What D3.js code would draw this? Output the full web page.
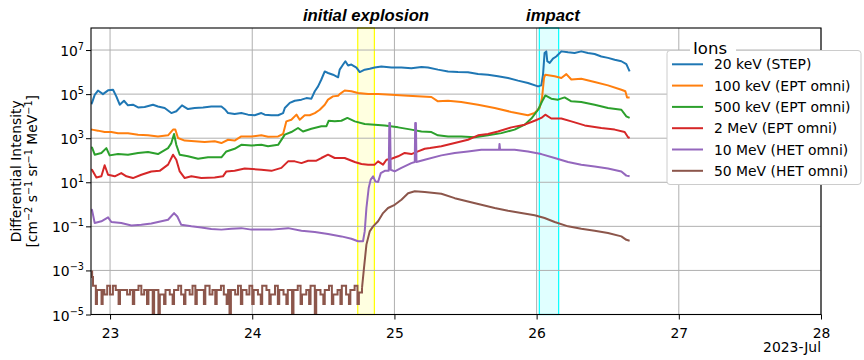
<!DOCTYPE html>
<html><head><meta charset="utf-8">
<script src="https://cdn.jsdelivr.net/npm/d3@7"></script>
<style>
body{margin:0;background:#fff}
svg{display:block}
text{font-family:"DejaVu Sans",sans-serif;fill:#000}
</style>
</head><body>
<svg id="chart" width="864" height="360"></svg>
<script>
// ---------------- data ----------------
const seriesNames = ["20 keV (STEP)","100 keV (EPT omni)","500 keV (EPT omni)","2 MeV (EPT omni)","10 MeV (HET omni)","50 MeV (HET omni)"];
const xTicks = [23,24,25,26,27,28];
const xTickLabels = ["23","24","25","26","27","28"];
const yTickValues = [1e-5,1e-3,1e-1,1e1,1e3,1e5,1e7];
const yTickExponents = ["−5","−3","−1","1","3","5","7"];
const dateOffsetLabel = "2023-Jul";
const eventLabels = ["initial explosion","impact"];
const eventStarts = [24.742, 26.019];
const eventEnds = [24.859, 26.155];
const eventLabelTimes = [24.80, 26.115];
const backgroundEnd = 24.772; // 50 MeV counts are at background level before this time

// [day of July 2023, intensity]
const step20keV = [[22.868,3.5e4],[22.873,4.0e4],[22.892,9.3e4],[22.915,1.45e5],[22.950,1.0e5],[22.986,1.48e5],[23.021,1.58e5],[23.044,7.9e4],[23.068,3.3e4],[23.098,5.0e4],[23.126,3.1e4],[23.161,3.3e4],[23.197,2.5e4],[23.243,2.6e4],[23.302,3.3e4],[23.337,2.75e4],[23.384,2.35e4],[23.431,1.38e4],[23.466,1.66e4],[23.506,3.1e4],[23.548,2.1e4],[23.595,2.35e4],[23.654,2.5e4],[23.712,2.75e4],[23.783,2.75e4],[23.811,1.95e4],[23.830,1.38e4],[23.876,1.26e4],[23.923,1.38e4],[23.970,1.17e4],[24.017,1.1e4],[24.064,1.38e4],[24.088,1.17e4],[24.135,1.1e4],[24.182,1.1e4],[24.217,1.38e4],[24.229,2.35e4],[24.264,4.0e4],[24.299,5.0e4],[24.346,5.6e4],[24.381,6.6e4],[24.416,6.2e4],[24.440,1.35e5],[24.463,2.24e5],[24.486,4.6e5],[24.510,1.07e6],[24.533,9.1e5],[24.568,7.6e5],[24.604,5.8e5],[24.615,1.29e6],[24.639,2.2e6],[24.655,3.1e6],[24.674,2.0e6],[24.697,2.2e6],[24.733,1.6e6],[24.756,1.0e6],[24.791,1.29e6],[24.826,1.41e6],[24.861,1.6e6],[24.908,1.8e6],[24.979,1.6e6],[25.049,1.6e6],[25.119,1.5e6],[25.190,1.7e6],[25.236,1.6e6],[25.306,1.29e6],[25.377,1.07e6],[25.447,1.0e6],[25.517,9.8e5],[25.588,8.1e5],[25.658,7.6e5],[25.728,6.5e5],[25.799,5.4e5],[25.869,4.1e5],[25.939,3.2e5],[26.010,2.24e5],[26.033,2.5e5],[26.045,7.6e5],[26.056,7.4e6],[26.068,8.7e6],[26.075,3.1e6],[26.092,2.6e6],[26.115,4.1e6],[26.138,5.1e6],[26.174,8.7e6],[26.221,7.9e6],[26.267,7.4e6],[26.314,8.7e6],[26.361,7.4e6],[26.408,6.6e6],[26.455,5.1e6],[26.502,4.4e6],[26.549,3.6e6],[26.596,3.1e6],[26.631,2.3e6],[26.654,1.07e6]];

const ept100keV = [[22.868,2.6e3],[22.873,2.45e3],[22.915,2.2e3],[22.962,1.9e3],[23.009,1.9e3],[23.056,1.66e3],[23.126,1.66e3],[23.197,1.45e3],[23.267,1.35e3],[23.337,1.2e3],[23.408,1.35e3],[23.443,2.45e3],[23.459,2.45e3],[23.478,1.02e3],[23.525,7.8e2],[23.595,7.2e2],[23.665,6.8e2],[23.736,7.2e2],[23.783,6.0e2],[23.830,8.5e2],[23.876,7.8e2],[23.923,1.2e3],[23.994,1.2e3],[24.064,1.35e3],[24.111,1.17e3],[24.182,1.2e3],[24.217,1.55e3],[24.240,5.8e3],[24.275,6.9e3],[24.311,1.17e4],[24.334,6.9e3],[24.369,1.1e4],[24.404,1.1e4],[24.440,1.38e4],[24.475,1.95e4],[24.510,3.3e4],[24.533,5.6e4],[24.568,7.9e4],[24.604,8.5e4],[24.615,1.0e5],[24.650,1.45e5],[24.697,1.35e5],[24.744,1.12e5],[24.815,1.0e5],[24.885,1.0e5],[24.979,9.3e4],[25.096,8.5e4],[25.260,7.4e4],[25.306,4.7e4],[25.377,5.0e4],[25.470,4.4e4],[25.588,3.3e4],[25.705,2.35e4],[25.822,1.55e4],[25.939,1.1e4],[25.986,1.38e4],[26.021,2.35e4],[26.038,6.6e4],[26.052,5.4e5],[26.061,7.6e5],[26.127,6.5e5],[26.174,5.4e5],[26.209,8.1e5],[26.244,4.6e5],[26.314,5.0e5],[26.408,3.55e5],[26.502,2.5e5],[26.596,1.58e5],[26.624,1.35e5],[26.636,7.1e4],[26.654,7.1e4]];

const ept500keV = [[22.868,3.8e2],[22.873,3.8e2],[22.892,1.78e2],[22.939,2.14e2],[22.974,3.55e2],[22.997,1.66e2],[23.056,1.9e2],[23.126,1.78e2],[23.197,2.14e2],[23.267,2.35e2],[23.337,1.9e2],[23.408,3.55e2],[23.431,6.0e2],[23.450,1.55e3],[23.466,5.0e2],[23.490,1.78e2],[23.548,1.51e2],[23.619,1.17e2],[23.689,1.35e2],[23.783,1.35e2],[23.818,2.5e2],[23.876,3.3e2],[23.923,5.0e2],[23.994,4.7e2],[24.064,5.0e2],[24.111,4.3e2],[24.182,5.0e2],[24.229,1.45e3],[24.275,1.9e3],[24.322,2.9e3],[24.357,2.0e3],[24.416,2.7e3],[24.486,3.5e3],[24.522,3.5e3],[24.538,6.2e3],[24.580,5.8e3],[24.627,6.2e3],[24.669,8.3e3],[24.721,5.8e3],[24.791,4.4e3],[24.861,4.1e3],[24.932,3.8e3],[25.026,3.1e3],[25.119,2.45e3],[25.190,2.0e3],[25.260,1.9e3],[25.306,1.35e3],[25.377,1.2e3],[25.470,1.2e3],[25.564,1.1e3],[25.658,1.35e3],[25.752,1.7e3],[25.845,2.45e3],[25.916,4.1e3],[25.963,7.8e3],[26.010,1.95e4],[26.045,5.6e4],[26.061,8.7e4],[26.103,6.2e4],[26.150,5.6e4],[26.197,7.1e4],[26.244,4.7e4],[26.314,4.4e4],[26.408,3.3e4],[26.502,2.35e4],[26.596,1.95e4],[26.631,9.8e3],[26.654,8.3e3]];

const ept2MeV = [[22.868,3.7e1],[22.873,3.7e1],[22.904,1.66e1],[22.939,1.86e1],[22.962,5.9e1],[22.986,2.2e1],[23.033,1.86e1],[23.079,2.6e1],[23.115,1.86e1],[23.161,1.55e1],[23.220,2.2e1],[23.290,3.1e1],[23.349,3.3e1],[23.408,6.3e1],[23.443,1.78e2],[23.466,1.05e2],[23.490,3.1e1],[23.525,1.55e1],[23.572,1.86e1],[23.642,1.55e1],[23.736,1.66e1],[23.794,1.86e1],[23.818,3.1e1],[23.876,3.3e1],[23.947,4.2e1],[24.064,3.7e1],[24.135,3.3e1],[24.205,4.5e1],[24.252,8.9e1],[24.299,8.9e1],[24.346,7.4e1],[24.393,9.5e1],[24.451,9.5e1],[24.486,1.26e2],[24.533,1.78e2],[24.580,1.26e2],[24.650,1.26e2],[24.721,8.3e1],[24.768,6.8e1],[24.815,6.3e1],[24.861,6.3e1],[24.885,8.9e1],[24.920,6.3e1],[24.944,1.05e2],[24.979,1.17e2],[25.026,1.51e2],[25.072,2.14e2],[25.119,1.9e2],[25.166,2.51e2],[25.213,3.31e2],[25.250,3.55e2],[25.330,4.27e2],[25.424,6.03e2],[25.517,8.51e2],[25.588,1.35e3],[25.658,1.55e3],[25.728,2.0e3],[25.822,3.1e3],[25.916,4.1e3],[25.986,6.2e3],[26.033,8.3e3],[26.061,1.17e4],[26.103,7.8e3],[26.174,7.8e3],[26.244,5.8e3],[26.338,3.8e3],[26.455,2.9e3],[26.549,2.45e3],[26.619,1.9e3],[26.643,1.1e3],[26.654,1.02e3]];

const het10MeV = [[22.868,0.56],[22.873,0.56],[22.892,0.141],[22.939,0.17],[22.986,0.257],[23.009,0.158],[23.079,0.141],[23.150,0.11],[23.220,0.117],[23.290,0.135],[23.361,0.17],[23.408,0.2],[23.450,0.40],[23.473,0.28],[23.501,0.117],[23.572,0.1],[23.642,0.089],[23.712,0.076],[23.783,0.071],[23.853,0.078],[23.923,0.083],[23.994,0.071],[24.064,0.071],[24.135,0.071],[24.252,0.083],[24.346,0.063],[24.440,0.055],[24.533,0.045],[24.627,0.035],[24.697,0.0275],[24.744,0.021],[24.779,0.021],[24.791,0.059],[24.803,0.68],[24.819,5.5],[24.833,13.2],[24.850,18.6],[24.866,11],[24.885,10.2],[24.904,26],[24.932,33],[24.960,33],[24.964,4.9e3],[24.969,4.9e3],[24.974,37],[25.002,31],[25.049,45],[25.119,74],[25.143,83],[25.146,4.9e3],[25.151,4.9e3],[25.155,83],[25.213,105],[25.330,166],[25.424,214],[25.517,251],[25.611,302],[25.736,302],[25.739,550],[25.743,302],[25.845,302],[25.939,251],[26.033,190],[26.127,126],[26.221,83],[26.314,63],[26.408,52],[26.502,42],[26.596,31],[26.631,20],[26.654,18.6]];

const het50MeV = [[22.868,9e-4],[22.874,5e-4],[22.880,2.0e-4],[22.900,3e-5],[22.908,1.3e-4],[22.920,1.3e-4],[22.940,3e-5],[22.948,1.3e-4],[22.960,8e-5],[22.980,2.0e-4],[23.000,8e-5],[23.020,2.0e-4],[23.040,1.3e-4],[23.060,3e-5],[23.070,1.3e-4],[23.100,1.3e-4],[23.120,8e-5],[23.140,1.3e-4],[23.160,3e-5],[23.170,1.3e-4],[23.200,2.0e-4],[23.220,8e-5],[23.240,1.3e-4],[23.260,3e-5],[23.270,1.3e-4],[23.300,5e-6],[23.310,1.3e-4],[23.340,5e-6],[23.350,8e-5],[23.380,3e-5],[23.390,1.3e-4],[23.420,8e-5],[23.440,3e-5],[23.450,1.3e-4],[23.480,2.0e-4],[23.500,8e-5],[23.520,3e-5],[23.530,1.3e-4],[23.560,8e-5],[23.580,2.0e-4],[23.600,3e-5],[23.610,1.3e-4],[23.660,3e-5],[23.670,2.0e-4],[23.700,8e-5],[23.720,1.3e-4],[23.740,3e-5],[23.750,1.3e-4],[23.780,2.0e-4],[23.800,8e-5],[23.820,3e-5],[23.830,1.3e-4],[23.840,5e-6],[23.850,1.3e-4],[23.880,8e-5],[23.900,2.0e-4],[23.920,3e-5],[23.930,1.3e-4],[23.960,8e-5],[23.980,2.0e-4],[24.000,3e-5],[24.010,1.3e-4],[24.040,8e-5],[24.060,3e-5],[24.070,2.0e-4],[24.100,1.3e-4],[24.120,3e-5],[24.130,8e-5],[24.160,2.0e-4],[24.180,3e-5],[24.190,1.3e-4],[24.220,8e-5],[24.240,3e-5],[24.250,1.3e-4],[24.280,5e-6],[24.290,1.3e-4],[24.320,2.0e-4],[24.340,3e-5],[24.350,8e-5],[24.380,1.3e-4],[24.400,3e-5],[24.410,2.0e-4],[24.440,5e-6],[24.450,1.3e-4],[24.480,8e-5],[24.500,3e-5],[24.510,1.3e-4],[24.540,2.0e-4],[24.560,3e-5],[24.570,8e-5],[24.600,1.3e-4],[24.620,3e-5],[24.630,2.0e-4],[24.660,8e-5],[24.680,3e-5],[24.690,1.3e-4],[24.720,2.0e-4],[24.740,3e-5],[24.750,1.0e-4],[24.772,1.6e-4],[24.786,1.3e-3],[24.803,1.48e-2],[24.826,5.9e-2],[24.850,0.1],[24.885,0.17],[24.920,0.4],[24.955,0.68],[25.002,0.95],[25.049,1.62],[25.096,3.2],[25.143,3.9],[25.213,3.6],[25.330,3.0],[25.424,1.9],[25.517,1.35],[25.611,0.95],[25.705,0.68],[25.799,0.51],[25.892,0.40],[25.986,0.32],[26.056,0.24],[26.127,0.158],[26.221,0.1],[26.314,0.078],[26.408,0.063],[26.502,0.05],[26.596,0.035],[26.631,0.0245],[26.654,0.0224]];

const seriesData = [step20keV, ept100keV, ept500keV, ept2MeV, het10MeV, het50MeV];

// ---------------- drawing ----------------
const colors = ["#1f77b4","#ff7f0e","#2ca02c","#d62728","#9467bd","#8c564b"];
const L = 91, R = 821, T = 28, B = 314.5;
const svg = d3.select("#chart");
const x = d3.scaleLinear().domain([22.866, 28]).range([L, R]);
const y = d3.scaleLog().domain([1e-5, 1e8]).range([B, T]);

svg.append("defs").append("clipPath").attr("id","plotclip")
  .append("rect").attr("x",L).attr("y",T).attr("width",R-L).attr("height",B-T);

// event bands
const bandFill = ["#ffffe0","#e0ffff"], bandEdge = ["#ffff00","#00ffff"];
eventStarts.forEach((s,i)=>{
  svg.append("rect").attr("x",x(s)).attr("y",T).attr("width",x(eventEnds[i])-x(s)).attr("height",B-T)
    .attr("fill",bandFill[i]).attr("stroke",bandEdge[i]).attr("stroke-width",1.2);
  svg.append("text").attr("x",x(eventLabelTimes[i])).attr("y",21).attr("text-anchor","middle")
    .style("font-family","'Liberation Sans',Arial,sans-serif").style("font-weight","bold").style("font-style","italic")
    .style("font-size","16.7px").text(eventLabels[i]);
});

// grid
const grid = svg.append("g");
xTicks.forEach(t=>grid.append("line").attr("x1",x(t)).attr("x2",x(t)).attr("y1",T).attr("y2",B)
  .attr("stroke","#b0b0b0").attr("stroke-width",1));
yTickValues.forEach(v=>grid.append("line").attr("x1",L).attr("x2",R).attr("y1",y(v)).attr("y2",y(v))
  .attr("stroke","#b0b0b0").attr("stroke-width",1));

// lines
const line = d3.line().x(d=>x(d[0])).y(d=>y(d[1]));
const stepLine = d3.line().x(d=>x(d[0])).y(d=>y(d[1])).curve(d3.curveStepAfter);
const lines = svg.append("g").attr("clip-path","url(#plotclip)");
seriesData.forEach((s,i)=>{
  if (i === 5) {
    const bg = s.filter(d=>d[0] <= backgroundEnd), ev = s.filter(d=>d[0] >= backgroundEnd);
    lines.append("path").datum(bg).attr("d",stepLine).attr("fill","none")
      .attr("stroke",colors[i]).attr("stroke-width",2);
    lines.append("path").datum(ev).attr("d",line).attr("fill","none")
      .attr("stroke",colors[i]).attr("stroke-width",2).attr("stroke-linejoin","round");
  } else {
    lines.append("path").datum(s).attr("d",line).attr("fill","none")
      .attr("stroke",colors[i]).attr("stroke-width",2).attr("stroke-linejoin","round");
  }
});

// frame
svg.append("rect").attr("x",L).attr("y",T).attr("width",R-L).attr("height",B-T)
  .attr("fill","none").attr("stroke","#000").attr("stroke-width",1.1);

// x axis
const xAxis = svg.append("g").attr("transform",`translate(0,${B})`)
  .call(d3.axisBottom(x).tickValues(xTicks).tickSize(5).tickPadding(8.2).tickFormat((d,i)=>xTickLabels[i]));
xAxis.select(".domain").remove();
xAxis.selectAll("text").style("font-size","13.9px").style("font-family","'DejaVu Sans',sans-serif");
xAxis.selectAll("line").attr("stroke","#000");
svg.append("text").attr("x",R).attr("y",352).attr("text-anchor","end").style("font-size","13.9px").text(dateOffsetLabel);

// y axis
const yAxis = svg.append("g").attr("transform",`translate(${L},0)`)
  .call(d3.axisLeft(y).tickValues(yTickValues).tickSize(5).tickFormat(""));
yAxis.select(".domain").remove();
yAxis.selectAll("line").attr("stroke","#000");
yAxis.selectAll(".tick").each(function(d,i){
  const t = d3.select(this).append("text").attr("x",-7).attr("y",5.5).attr("text-anchor","end")
    .style("font-size","13.9px").attr("fill","#000");
  t.append("tspan").text("10");
  t.append("tspan").attr("dy",-6).style("font-size","9.7px").text(yTickExponents[i]);
});

// y label (two lines)
svg.append("text").attr("transform","translate(20.6,171.3) rotate(-90)").attr("text-anchor","middle")
  .style("font-size","13.9px").text("Differential Intensity");
const ylab2 = svg.append("text").attr("transform","translate(37.3,171.3) rotate(-90)").attr("text-anchor","middle")
  .style("font-size","13.9px");
const unitParts = ["[cm","−2"," s","−1"," sr","−1"," MeV","−1","]"];
unitParts.forEach((p,k)=>{
  const ts = ylab2.append("tspan").text(p);
  if (k % 2 === 1) ts.attr("dy",-5.5).style("font-size","9.7px");
  else if (k > 0) ts.attr("dy",5.5);
});

// legend
const lg = svg.append("g");
lg.append("rect").attr("x",667).attr("y",50.5).attr("width",194).attr("height",134).attr("rx",3)
  .attr("fill","#fff").attr("stroke","#cccccc").attr("stroke-width",1);
lg.append("rect").attr("x",690).attr("y",44).attr("width",46).attr("height",12).attr("fill","#fff");
lg.append("text").attr("x",693).attr("y",53.5).style("font-size","16.5px").text("Ions");
seriesNames.forEach((n,i)=>{
  const yy = 64.3 + i*21.3;
  lg.append("line").attr("x1",672).attr("x2",703).attr("y1",yy).attr("y2",yy).attr("stroke",colors[i]).attr("stroke-width",2);
  lg.append("text").attr("x",714).attr("y",yy+5).style("font-size","13.9px").text(n);
});
</script>
</body></html>
